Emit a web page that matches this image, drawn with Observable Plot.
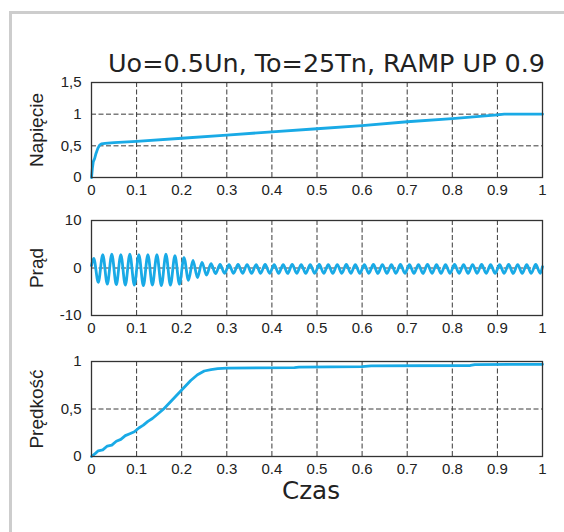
<!DOCTYPE html>
<html><head><meta charset="utf-8">
<script src="https://cdn.jsdelivr.net/npm/d3@7"></script>
<script src="https://cdn.jsdelivr.net/npm/@observablehq/plot@0.6"></script>
<style>
html,body{margin:0;padding:0;background:#fff}
body{width:564px;height:532px;position:relative;overflow:hidden;font-family:"Liberation Sans",Arial,sans-serif}
#frame{position:absolute;left:9px;top:11px;width:700px;height:700px;border:3px solid #cdcdcd;box-sizing:border-box}
.abs{position:absolute;left:0}
</style></head><body>
<div id="frame"></div>
<svg class="abs" style="top:0" width="564" height="90">
  <text id="title" x="108" y="72" font-family="DejaVu Sans, sans-serif" font-size="24" fill="#222"></text>
</svg>
<div id="p1" class="abs" style="top:72px"></div>
<div id="p2" class="abs" style="top:210px"></div>
<div id="p3" class="abs" style="top:351px"></div>
<svg class="abs" style="top:470px" width="564" height="50">
  <text id="xlabel" x="311" y="29" text-anchor="middle" font-family="DejaVu Sans, sans-serif" font-size="24" fill="#222"></text>
</svg>
<script>
const titleText = "Uo=0.5Un, To=25Tn, RAMP UP 0.9";
const xAxisLabel = "Czas";
const panelLabels = ["Napięcie", "Prąd", "Prędkość"];
const xTicks = [0, 0.1, 0.2, 0.3, 0.4, 0.5, 0.6, 0.7, 0.8, 0.9, 1];

// Napięcie
const voltageT = [0, 0.002, 0.004, 0.007, 0.01, 0.014, 0.018, 0.022, 0.03, 0.05, 0.1, 0.2, 0.3, 0.4, 0.5, 0.6, 0.7, 0.8, 0.9, 0.915, 1.0];
const voltageV = [0, 0.15, 0.25, 0.3, 0.38, 0.46, 0.51, 0.53, 0.54, 0.55, 0.57, 0.62, 0.67, 0.72, 0.77, 0.82, 0.88, 0.93, 0.99, 1.0, 1.0];

// Prąd (extrema of the oscillation)
const currentT = [0, 0.005, 0.015, 0.025, 0.035, 0.045, 0.055, 0.065, 0.075, 0.085, 0.095,
  0.105, 0.115, 0.125, 0.135, 0.145, 0.155, 0.165, 0.175, 0.185, 0.195,
  0.205, 0.215, 0.225, 0.235, 0.245, 0.255, 0.265, 0.275, 0.285, 0.295,
  0.305, 0.315, 0.325, 0.335, 0.345, 0.355, 0.365, 0.375, 0.385, 0.395,
  0.405, 0.415, 0.425, 0.435, 0.445, 0.455, 0.465, 0.475, 0.485, 0.495,
  0.505, 0.515, 0.525, 0.535, 0.545, 0.555, 0.565, 0.575, 0.585, 0.595,
  0.605, 0.615, 0.625, 0.635, 0.645, 0.655, 0.665, 0.675, 0.685, 0.695,
  0.705, 0.715, 0.725, 0.735, 0.745, 0.755, 0.765, 0.775, 0.785, 0.795,
  0.805, 0.815, 0.825, 0.835, 0.845, 0.855, 0.865, 0.875, 0.885, 0.895,
  0.905, 0.915, 0.925, 0.935, 0.945, 0.955, 0.965, 0.975, 0.985, 0.995, 1.0];
const currentV = [0.5, 2.0, -3.0, 2.8, -3.4, 2.9, -3.5, 2.8, -3.6, 2.9, -3.6,
  2.8, -3.7, 2.8, -3.6, 2.8, -3.7, 2.9, -3.6, 2.6, -3.4,
  2.2, -2.6, 1.6, -2.0, 1.2, -1.5, 0.9, -1.2, 0.75, -1.1,
  0.7, -1.1, 0.75, -1.1, 0.7, -1.15, 0.7, -1.1, 0.75, -1.1,
  0.7, -1.1, 0.7, -1.15, 0.75, -1.1, 0.7, -1.1, 0.7, -1.1,
  0.75, -1.1, 0.7, -1.15, 0.7, -1.1, 0.75, -1.1, 0.7, -1.1,
  0.7, -1.1, 0.75, -1.15, 0.7, -1.1, 0.7, -1.1, 0.75, -1.1,
  0.7, -1.1, 0.7, -1.15, 0.75, -1.1, 0.7, -1.1, 0.7, -1.1,
  0.75, -1.1, 0.7, -1.15, 0.7, -1.1, 0.75, -1.1, 0.7, -1.1,
  0.7, -1.1, 0.75, -1.15, 0.7, -1.1, 0.7, -1.1, 0.75, -1.1, 0.3];

// Prędkość
const speedT = [0, 0.008, 0.015, 0.025, 0.035, 0.045, 0.055, 0.065, 0.075, 0.085, 0.095, 0.105, 0.115, 0.125, 0.135, 0.145, 0.16, 0.18, 0.2, 0.22, 0.235, 0.25, 0.265, 0.28, 0.3, 0.45, 0.46, 0.6, 0.62, 0.84, 0.85, 1.0];
const speedV = [0, 0.03, 0.06, 0.07, 0.11, 0.12, 0.16, 0.18, 0.22, 0.24, 0.26, 0.3, 0.33, 0.37, 0.4, 0.44, 0.5, 0.6, 0.7, 0.8, 0.86, 0.9, 0.915, 0.925, 0.93, 0.935, 0.94, 0.945, 0.955, 0.958, 0.968, 0.97];

const lineColor = "#19aae6";
const gridColor = "#3a3a3a";
const commaFmt = d => String(d).replace(".", ",");
const xFmt = d => String(d);

function panel(el, label, T, V, yDomain, yTicks, yGrid, yFmt, curve) {
  const data = T.map((t, i) => ({t, v: V[i]}));
  const p = Plot.plot({
    width: 564, height: 135,
    marginLeft: 91, marginRight: 22, marginTop: 10, marginBottom: 30,
    style: {fontFamily: "Liberation Sans, Arial, sans-serif", fontSize: "15px", color: "#222", background: "transparent", overflow: "visible"},
    x: {domain: [0, 1], ticks: xTicks, tickFormat: xFmt, tickSize: 0, tickPadding: 7, label: null},
    y: {domain: yDomain, ticks: yTicks, tickFormat: yFmt, tickSize: 0, tickPadding: 10, label: null},
    marks: [
      Plot.ruleX(xTicks.slice(1, -1), {stroke: gridColor, strokeDasharray: "5,2.5", strokeWidth: 1}),
      Plot.ruleY(yGrid, {stroke: gridColor, strokeDasharray: "5,2.5", strokeWidth: 1}),
      Plot.line(data, {x: "t", y: "v", stroke: lineColor, strokeWidth: 2.8, curve}),
      Plot.frame({stroke: "#333", strokeWidth: 1.3}),
      Plot.text([label], {frameAnchor: "left", textAnchor: "middle", lineAnchor: "middle", rotate: -90, dx: -55, fontSize: 19, fill: "#222", text: d => d})
    ]
  });
  document.getElementById(el).appendChild(p);
}

panel("p1", panelLabels[0], voltageT, voltageV, [0, 1.5], [0, 0.5, 1, 1.5], [0.5, 1], commaFmt, "linear");
panel("p2", panelLabels[1], currentT, currentV, [-10, 10], [-10, 0, 10], [0], d => String(d), "monotone-x");
panel("p3", panelLabels[2], speedT, speedV, [0, 1], [0, 0.5, 1], [0.5], commaFmt, "linear");

const tt = document.getElementById("title");
tt.textContent = titleText;
tt.setAttribute("textLength", 437);
tt.setAttribute("lengthAdjust", "spacingAndGlyphs");
const xl = document.getElementById("xlabel");
xl.textContent = xAxisLabel;
xl.setAttribute("textLength", 58);
xl.setAttribute("lengthAdjust", "spacingAndGlyphs");
</script>
</body></html>
